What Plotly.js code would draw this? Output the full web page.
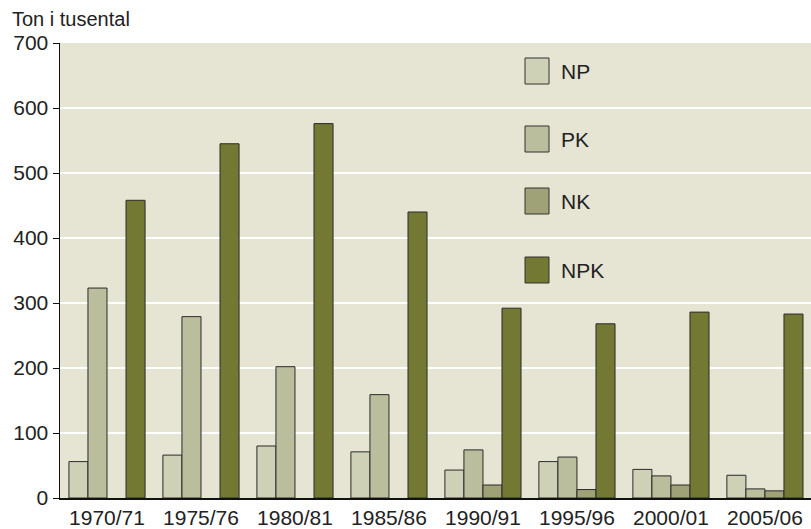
<!DOCTYPE html>
<html>
<head>
<meta charset="utf-8">
<script src="https://cdn.plot.ly/plotly-3.0.1.min.js"></script>
<style>
  body { margin: 0; background: #fff; }
  #myDiv { width: 811px; height: 529px; }
</style>
</head>
<body>
<div id="myDiv"></div>
<script>
var years = ['1970/71', '1975/76', '1980/81', '1985/86', '1990/91', '1995/96', '2000/01', '2005/06'];
var npValues  = [56, 66, 80, 71, 43, 56, 44, 35];
var pkValues  = [323, 279, 202, 159, 74, 63, 34, 14];
var nkValues  = [null, null, null, null, 20, 13, 20, 11];
var npkValues = [458, 545, 576, 440, 292, 268, 286, 283];

var seriesNames  = ['NP', 'PK', 'NK', 'NPK'];
var seriesColors = ['#cfd1b6', '#bbbe9c', '#9ea276', '#737933'];
var seriesValues = [npValues, pkValues, nkValues, npkValues];

var data = seriesNames.map(function (name, i) {
  return {
    type: 'bar',
    name: name,
    x: years,
    y: seriesValues[i],
    marker: {
      color: seriesColors[i],
      line: { color: '#2b2b2b', width: 1 }
    },
    hoverinfo: 'x+y+name'
  };
});

// plot area in pixels, used to place the hand-drawn legend
var L = 60, R = 811, T = 43, B = 498;
function px(x) { return (x - L) / (R - L); }
function py(y) { return (B - y) / (B - T); }

var legendY = [71, 139, 201, 270];  // centre of each swatch
var shapes = [];
var annotations = [];
seriesNames.forEach(function (name, i) {
  shapes.push({
    type: 'rect', xref: 'paper', yref: 'paper',
    x0: px(525), x1: px(549),
    y0: py(legendY[i] + 13), y1: py(legendY[i] - 13),
    fillcolor: seriesColors[i],
    line: { color: '#333', width: 1 }
  });
  annotations.push({
    xref: 'paper', yref: 'paper',
    x: px(559), y: py(legendY[i]),
    xanchor: 'left', yanchor: 'middle',
    text: name, showarrow: false,
    font: { size: 21, color: '#222' }
  });
});

annotations.push({
  xref: 'paper', yref: 'paper',
  x: 0, y: 1, xshift: -50, yshift: 11,
  xanchor: 'left', yanchor: 'bottom',
  text: 'Ton i tusental', showarrow: false,
  font: { size: 20, color: '#222' }
});

var layout = {
  width: 811,
  height: 529,
  margin: { l: L, r: 0, t: T, b: 529 - B },
  paper_bgcolor: '#ffffff',
  plot_bgcolor: '#e6e4d2',
  font: { family: 'Liberation Sans, Arial, sans-serif', size: 21, color: '#222' },
  barmode: 'group',
  bargap: 0.19,
  bargroupgap: 0,
  showlegend: false,
  xaxis: {
    type: 'category',
    range: [-0.5, 7.49],
    showgrid: false,
    showline: true,
    linecolor: '#111',
    linewidth: 1.5,
    ticks: '',
    tickfont: { size: 21, color: '#222' },
    zeroline: false
  },
  yaxis: {
    range: [0, 700],
    dtick: 100,
    showgrid: true,
    gridcolor: '#ffffff',
    gridwidth: 2,
    showline: true,
    linecolor: '#111',
    linewidth: 1.5,
    ticks: 'outside',
    ticklen: 6,
    tickcolor: '#111',
    tickfont: { size: 21, color: '#222' },
    zeroline: false
  },
  shapes: shapes,
  annotations: annotations
};

Plotly.newPlot('myDiv', data, layout, { displayModeBar: false, staticPlot: true });
</script>
</body>
</html>
